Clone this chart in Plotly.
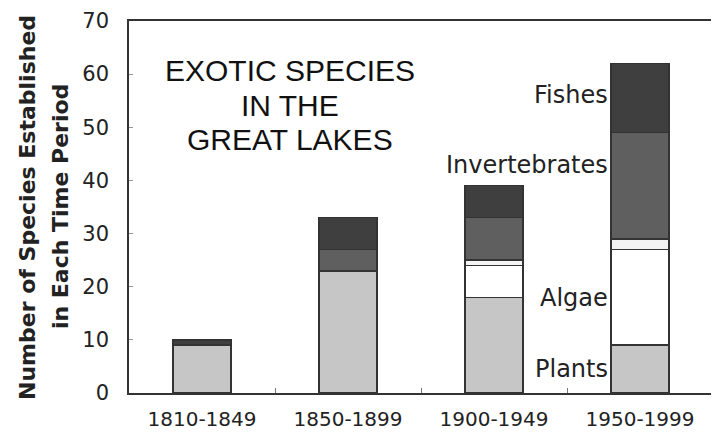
import plotly.graph_objects as go

periods = ["1810-1849", "1850-1899", "1900-1949", "1950-1999"]
plants = [9, 23, 18, 9]
algae = [0, 0, 6, 18]
other = [0, 0, 1, 2]
invertebrates = [0, 4, 8, 20]
fishes = [1, 6, 6, 13]

y_ticks = [0, 10, 20, 30, 40, 50, 60, 70]

series = [
    ("Plants", plants, "#c6c6c6"),
    ("Algae", algae, "#ffffff"),
    ("Other", other, "#f4f4f4"),
    ("Invertebrates", invertebrates, "#5f5f5f"),
    ("Fishes", fishes, "#3f3f3f"),
]

fig = go.Figure()
for name, vals, col in series:
    fig.add_trace(go.Bar(
        x=periods, y=vals, name=name,
        marker=dict(color=col, line=dict(color="#333333", width=1.5)),
        showlegend=False,
    ))

# page body has an 8px margin, so the figure is offset by 8px; compensate
fig.update_layout(
    width=711, height=424,
    margin=dict(l=121, r=6, t=13, b=39, autoexpand=False),
    paper_bgcolor="white", plot_bgcolor="white",
    barmode="stack", bargap=0.6,
    xaxis=dict(
        type="category", tickson="boundaries", ticks="inside", ticklen=5,
        tickcolor="#777777", showline=True, linecolor="#333333", linewidth=1.5,
        mirror=True, showgrid=False, automargin=False,
        tickfont=dict(family="DejaVu Sans", size=20, color="#222222"),
        ticklabelstandoff=7,
    ),
    yaxis=dict(
        range=[0, 70], tickvals=y_ticks, ticks="inside", ticklen=4,
        tickcolor="#999999", showline=True, linecolor="#333333", linewidth=1.5,
        mirror=True, showgrid=False, zeroline=False, automargin=False,
        tickfont=dict(family="DejaVu Sans", size=21, color="#222222"),
        ticklabelstandoff=14,
    ),
)

# Title inside plot
title_lines = ["EXOTIC SPECIES", "IN THE", "GREAT LAKES"]
title_y = [0.867, 0.773, 0.682]
for txt, yy in zip(title_lines, title_y):
    fig.add_annotation(text=txt, xref="paper", yref="paper", x=0.276, y=yy,
                       xanchor="center", yanchor="middle", showarrow=False,
                       font=dict(family="Liberation Sans", size=30, color="#111111"))

# Y-axis title (two lines)
fig.add_annotation(text="<b>Number of Species Established</b>", xref="paper", yref="paper",
                   x=-0.1747, y=0.5, xanchor="center", yanchor="middle", textangle=-90,
                   showarrow=False, font=dict(family="DejaVu Sans", size=22, color="#222222"))
fig.add_annotation(text="<b>in Each Time Period</b>", xref="paper", yref="paper",
                   x=-0.118, y=0.5, xanchor="center", yanchor="middle", textangle=-90,
                   showarrow=False, font=dict(family="DejaVu Sans", size=22, color="#222222"))

# Series labels next to last bar
labels = [("Fishes", 56.1), ("Invertebrates", 42.9), ("Algae", 17.8), ("Plants", 4.5)]
for txt, yy in labels:
    fig.add_annotation(text=txt, x=periods[3], y=yy, xref="x", yref="y",
                       xanchor="right", yanchor="middle", xshift=-30, showarrow=False,
                       bgcolor="white", borderpad=1,
                       font=dict(family="DejaVu Sans", size=24, color="#222222"))

fig.write_html("out.html")
